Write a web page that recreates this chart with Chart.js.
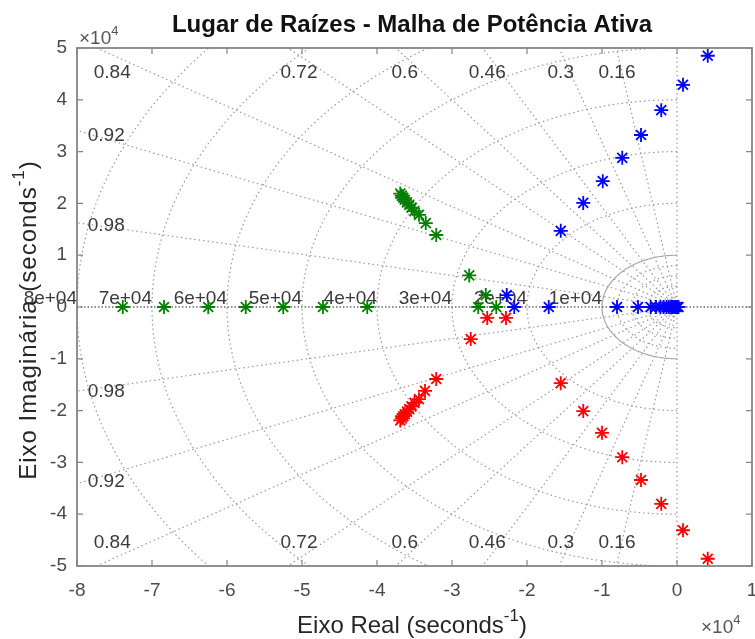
<!DOCTYPE html>
<html>
<head>
<meta charset="utf-8">
<title>Lugar de Raízes</title>
<script src="https://cdn.jsdelivr.net/npm/chart.js@4.4.1/dist/chart.umd.min.js"></script>
<style>
  html, body { margin: 0; padding: 0; background: #fff; }
  #wrap { width: 755px; height: 639px; }
</style>
</head>
<body>
<div id="wrap"><canvas id="rlocus" width="755" height="639"></canvas></div>
<script>
// Polos em malha fechada (unidades de 1e4 s^-1)
const azulRe  = [0.41, 0.08, -0.21, -0.48, -0.73, -0.99, -1.25, -1.55, -2.27, -2.17, -1.71, -0.80, -0.52, -0.35, -0.28, -0.22, -0.18, -0.14, -0.11, -0.08, -0.06, -0.04, -0.02, 0.00, 0.02];
const azulIm  = [4.85, 4.29, 3.80, 3.32, 2.88, 2.43, 2.01, 1.47, 0.23, 0, 0, 0, 0, 0, 0, 0, 0, 0, 0, 0, 0, 0, 0, 0, 0];

const vermRe  = [0.41, 0.08, -0.21, -0.48, -0.73, -1.00, -1.25, -1.55, -2.28, -2.53, -2.75, -3.21, -3.36, -3.44, -3.50, -3.54, -3.57, -3.60, -3.63, -3.65, -3.67, -3.69];
const vermIm  = [-4.86, -4.31, -3.80, -3.34, -2.90, -2.43, -2.01, -1.47, -0.21, -0.21, -0.62, -1.39, -1.62, -1.78, -1.85, -1.92, -1.97, -2.02, -2.07, -2.11, -2.15, -2.19];

const verdeRe = [-2.77, -3.21, -3.35, -3.44, -3.50, -3.54, -3.57, -3.60, -3.63, -3.65, -3.67, -3.69, -2.55, -2.65, -2.41, -4.13, -4.72, -5.25, -5.75, -6.25, -6.84, -7.39];
const verdeIm = [0.61, 1.39, 1.62, 1.78, 1.85, 1.92, 1.97, 2.02, 2.07, 2.11, 2.15, 2.19, 0.23, 0, 0, 0, 0, 0, 0, 0, 0, 0];

// Eixos
const xTicks = [-8, -7, -6, -5, -4, -3, -2, -1, 0, 1];
const yTicks = [-5, -4, -3, -2, -1, 0, 1, 2, 3, 4, 5];

// Grade do plano s: amortecimento e frequencia natural
const zetaVals   = [0.16, 0.3, 0.46, 0.6, 0.72, 0.84, 0.92, 0.98];
const wnVals     = [1, 2, 3, 4, 5, 6, 7, 8];
const wnLabels   = ['1e+04', '2e+04', '3e+04', '4e+04', '5e+04', '6e+04', '7e+04', '8e+04'];
const wnInternos = [0.2, 0.4, 0.6, 0.8];

// onde cada rotulo de zeta fica (texto centralizado)
const zetaPos = [
  { t: '0.84', x: -7.53, y: 4.52 }, { t: '0.72', x: -5.04, y: 4.52 },
  { t: '0.6',  x: -3.63, y: 4.52 }, { t: '0.46', x: -2.53, y: 4.52 },
  { t: '0.3',  x: -1.55, y: 4.52 }, { t: '0.16', x: -0.80, y: 4.52 },
  { t: '0.92', x: -7.61, y: 3.30 }, { t: '0.98', x: -7.61, y: 1.56 },
  { t: '0.98', x: -7.61, y: -1.64 }, { t: '0.92', x: -7.61, y: -3.38 },
  { t: '0.84', x: -7.53, y: -4.56 }, { t: '0.72', x: -5.04, y: -4.56 },
  { t: '0.6',  x: -3.63, y: -4.56 }, { t: '0.46', x: -2.53, y: -4.56 },
  { t: '0.3',  x: -1.55, y: -4.56 }, { t: '0.16', x: -0.80, y: -4.56 }
];

const FONT = '"Liberation Sans", Arial, sans-serif';

function pts(re, im) {
  return re.map((v, i) => ({ x: v, y: im[i] }));
}

// texto com expoente (ex.: seconds^-1, x10^4)
function drawSup(ctx, parts, cx, cy, size, align) {
  let w = 0;
  parts.forEach(p => {
    ctx.font = (p.sup ? Math.round(size * 0.7) : size) + 'px ' + FONT;
    p.w = ctx.measureText(p.t).width;
    w += p.w;
  });
  let x = align === 'left' ? cx : cx - w / 2;
  ctx.textAlign = 'left';
  ctx.textBaseline = 'middle';
  parts.forEach(p => {
    ctx.font = (p.sup ? Math.round(size * 0.7) : size) + 'px ' + FONT;
    ctx.fillText(p.t, x, p.sup ? cy - size * 0.42 : cy);
    x += p.w;
  });
}

const gradePlano = {
  id: 'gradePlano',
  beforeDatasetsDraw(chart) {
    const { ctx, chartArea: a, scales: { x, y } } = chart;
    const px = v => x.getPixelForValue(v);
    const py = v => y.getPixelForValue(v);

    ctx.save();
    ctx.beginPath();
    ctx.rect(a.left, a.top, a.right - a.left, a.bottom - a.top);
    ctx.clip();

    ctx.lineWidth = 1.2;
    ctx.strokeStyle = '#9a9a9a';
    ctx.setLineDash([1.5, 3]);

    // retas de amortecimento constante
    zetaVals.forEach(z => {
      const s = Math.sqrt(1 - z * z);
      [1, -1].forEach(sg => {
        ctx.beginPath();
        ctx.moveTo(px(0), py(0));
        ctx.lineTo(px(-z * 20), py(sg * s * 20));
        ctx.stroke();
      });
    });

    const semi = r => {
      ctx.beginPath();
      for (let i = 0; i <= 180; i++) {
        const t = Math.PI / 2 + i * Math.PI / 180;
        const X = px(r * Math.cos(t)), Y = py(r * Math.sin(t));
        if (i) ctx.lineTo(X, Y); else ctx.moveTo(X, Y);
      }
      ctx.stroke();
    };

    // circulos de wn
    wnVals.slice(1).forEach(semi);
    wnInternos.forEach(semi);

    // eixo imaginario
    ctx.beginPath();
    ctx.moveTo(px(0), a.top);
    ctx.lineTo(px(0), a.bottom);
    ctx.stroke();

    // wn = 1e4 em linha cheia
    ctx.setLineDash([]);
    ctx.strokeStyle = '#a8a8a8';
    semi(wnVals[0]);

    // eixo real
    ctx.setLineDash([1.5, 2]);
    ctx.strokeStyle = '#202020';
    ctx.beginPath();
    ctx.moveTo(a.left, py(0));
    ctx.lineTo(a.right, py(0));
    ctx.stroke();
    ctx.restore();

    // rotulos
    ctx.save();
    ctx.fillStyle = '#3a3a3a';
    ctx.font = '19px ' + FONT;
    ctx.textAlign = 'center';
    ctx.textBaseline = 'middle';
    zetaPos.forEach(l => ctx.fillText(l.t, px(l.x), py(l.y)));
    ctx.textAlign = 'right';
    ctx.textBaseline = 'alphabetic';
    wnVals.forEach((w, i) => ctx.fillText(wnLabels[i], px(-w), py(0) - 3));
    ctx.restore();
  },
  afterDatasetsDraw(chart) {
    const { ctx, chartArea: a, scales: { x, y } } = chart;
    ctx.save();
    ctx.strokeStyle = '#858585';
    ctx.lineWidth = 1.8;
    ctx.strokeRect(a.left, a.top, a.right - a.left, a.bottom - a.top);
    ctx.lineWidth = 1.2;
    const tl = 6;
    ctx.beginPath();
    xTicks.forEach(v => {
      const X = x.getPixelForValue(v);
      ctx.moveTo(X, a.bottom); ctx.lineTo(X, a.bottom - tl);
      ctx.moveTo(X, a.top); ctx.lineTo(X, a.top + tl);
    });
    yTicks.forEach(v => {
      const Y = y.getPixelForValue(v);
      ctx.moveTo(a.left, Y); ctx.lineTo(a.left + tl, Y);
      ctx.moveTo(a.right, Y); ctx.lineTo(a.right - tl, Y);
    });
    ctx.stroke();

    // titulo e nomes dos eixos
    ctx.fillStyle = '#111';
    ctx.font = 'bold 24px ' + FONT;
    ctx.textAlign = 'center';
    ctx.textBaseline = 'middle';
    ctx.fillText('Lugar de Raízes - Malha de Potência Ativa', 412, 25);

    ctx.fillStyle = '#262626';
    drawSup(ctx, [{ t: 'Eixo Real (seconds' }, { t: '-1', sup: true }, { t: ')' }], 412, 626, 24);
    ctx.translate(29, 320);
    ctx.rotate(-Math.PI / 2);
    ctx.letterSpacing = '1px';
    drawSup(ctx, [{ t: 'Eixo Imaginária (seconds' }, { t: '-1', sup: true }, { t: ')' }], 0, 0, 24);
    ctx.letterSpacing = '0px';
    ctx.setTransform(1, 0, 0, 1, 0, 0);

    ctx.fillStyle = '#555';
    drawSup(ctx, [{ t: '×10' }, { t: '4', sup: true }], a.left + 2, 39, 19, 'left');
    drawSup(ctx, [{ t: '×10' }, { t: '4', sup: true }], a.right - 51, 628, 19, 'left');
    ctx.restore();
  }
};

const estrela = (cor) => ({
  pointStyle: 'star',
  pointRadius: 7,
  pointHoverRadius: 7,
  pointBorderWidth: 1.8,
  borderColor: cor,
  backgroundColor: cor,
  showLine: false
});

new Chart(document.getElementById('rlocus'), {
  type: 'scatter',
  data: {
    datasets: [
      { label: 'verde', data: pts(verdeRe, verdeIm), ...estrela('#008000') },
      { label: 'vermelho', data: pts(vermRe, vermIm), ...estrela('#ff0000') },
      { label: 'azul', data: pts(azulRe, azulIm), ...estrela('#0000ff') }
    ]
  },
  options: {
    responsive: false,
    animation: false,
    devicePixelRatio: 1,
    layout: { autoPadding: false, padding: { top: 48, right: 3, left: 0, bottom: 0 } },
    plugins: { legend: { display: false }, tooltip: { enabled: false }, title: { display: false } },
    scales: {
      x: {
        type: 'linear', min: -8, max: 1,
        afterBuildTicks: s => { s.ticks = xTicks.map(v => ({ value: v })); },
        afterFit: s => { s.height = 73; s.paddingLeft = 0; s.paddingRight = 0; },
        grid: { display: false, drawTicks: false },
        border: { display: false },
        ticks: { color: '#4a4a4a', font: { size: 19, family: FONT }, padding: 13, maxRotation: 0 }
      },
      y: {
        type: 'linear', min: -5, max: 5,
        afterBuildTicks: s => { s.ticks = yTicks.map(v => ({ value: v })); },
        afterFit: s => { s.width = 77; s.paddingTop = 0; s.paddingBottom = 0; },
        grid: { display: false, drawTicks: false },
        border: { display: false },
        ticks: { color: '#4a4a4a', font: { size: 19, family: FONT }, padding: 10 }
      }
    }
  },
  plugins: [gradePlano]
});
</script>
</body>
</html>
